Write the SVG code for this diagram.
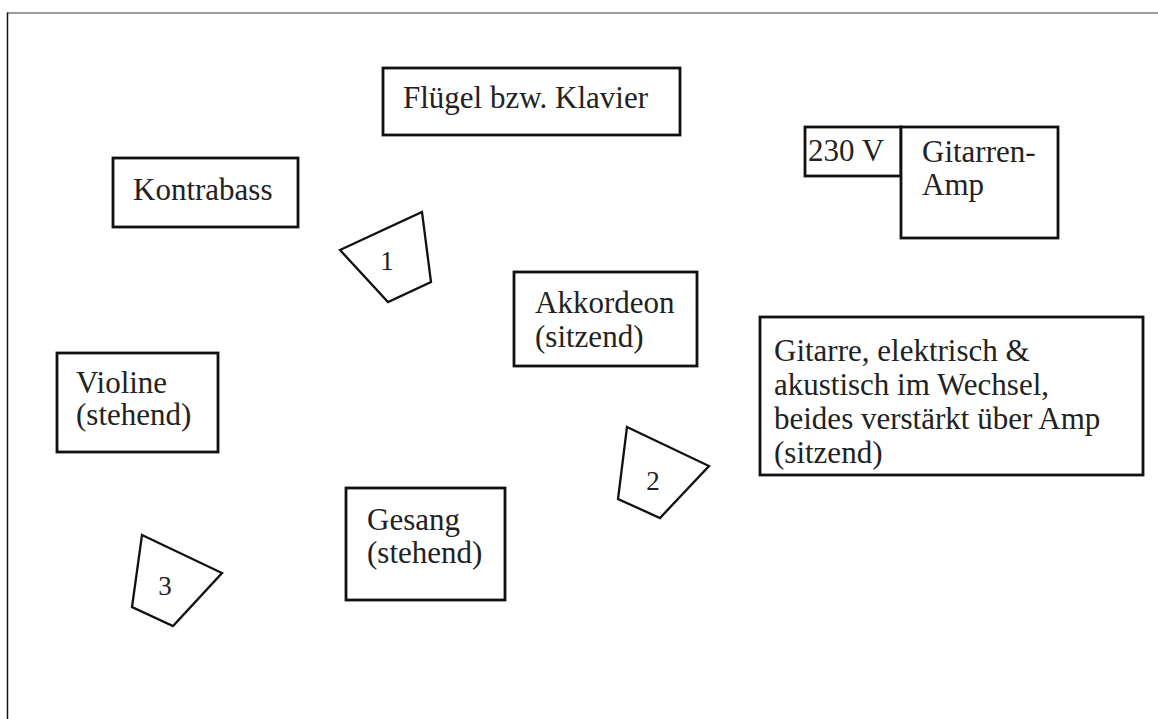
<svg xmlns="http://www.w3.org/2000/svg" width="1158" height="719" viewBox="0 0 1158 719">
<style>
.box{fill:#fff;stroke:#111;stroke-width:2.8}
.pos{fill:#fff;stroke:#111;stroke-width:2.3;stroke-linejoin:miter}
.t{font-family:"Liberation Serif","Times New Roman",serif;font-size:31px;fill:#222}
.n{font-family:"Liberation Serif","Times New Roman",serif;font-size:27px;fill:#222;text-anchor:middle}
</style>
<rect width="1158" height="719" fill="#fff"/>
<g id="frame">
<line x1="7" y1="13" x2="1158" y2="13" stroke="#7a7a7a" stroke-width="1.5"/>
<line x1="7.5" y1="12.5" x2="7.5" y2="719" stroke="#111" stroke-width="1.5"/>
</g>
<g id="connectors"></g>
<g id="fluegel">
<rect class="box" x="383" y="68" width="297" height="67"/>
<text class="t" x="403" y="108">Flügel bzw. Klavier</text>
</g>
<g id="kontrabass">
<rect class="box" x="113" y="158" width="185" height="69"/>
<text class="t" x="133" y="200">Kontrabass</text>
</g>
<g id="strom">
<rect class="box" x="805" y="127" width="96" height="49"/>
<text class="t" x="808" y="161">230 V</text>
</g>
<g id="amp">
<rect class="box" x="901" y="127" width="157" height="111"/>
<text class="t" x="922" y="162">Gitarren-</text>
<text class="t" x="922" y="195">Amp</text>
</g>
<g id="akkordeon">
<rect class="box" x="514" y="272" width="183" height="94"/>
<text class="t" x="535" y="313">Akkordeon</text>
<text class="t" x="535" y="347">(sitzend)</text>
</g>
<g id="gitarre">
<rect class="box" x="760" y="317" width="383" height="158"/>
<text class="t" x="774" y="361">Gitarre, elektrisch &amp;</text>
<text class="t" x="774" y="395">akustisch im Wechsel,</text>
<text class="t" x="774" y="429">beides verstärkt über Amp</text>
<text class="t" x="774" y="463">(sitzend)</text>
</g>
<g id="violine">
<rect class="box" x="57" y="353" width="161" height="99"/>
<text class="t" x="76" y="393">Violine</text>
<text class="t" x="76" y="425">(stehend)</text>
</g>
<g id="gesang">
<rect class="box" x="346" y="488" width="159" height="112"/>
<text class="t" x="367" y="530">Gesang</text>
<text class="t" x="367" y="563">(stehend)</text>
</g>
<g id="pos1">
<polygon class="pos" points="340,250 422,212 431,282 388,302"/>
<text class="n" x="387" y="270">1</text>
</g>
<g id="pos2">
<polygon class="pos" points="627,427 709,466 660,518 618,499"/>
<text class="n" x="653" y="490">2</text>
</g>
<g id="pos3">
<polygon class="pos" points="142,535 222,573 173,626 132,607"/>
<text class="n" x="165" y="595">3</text>
</g>
</svg>
